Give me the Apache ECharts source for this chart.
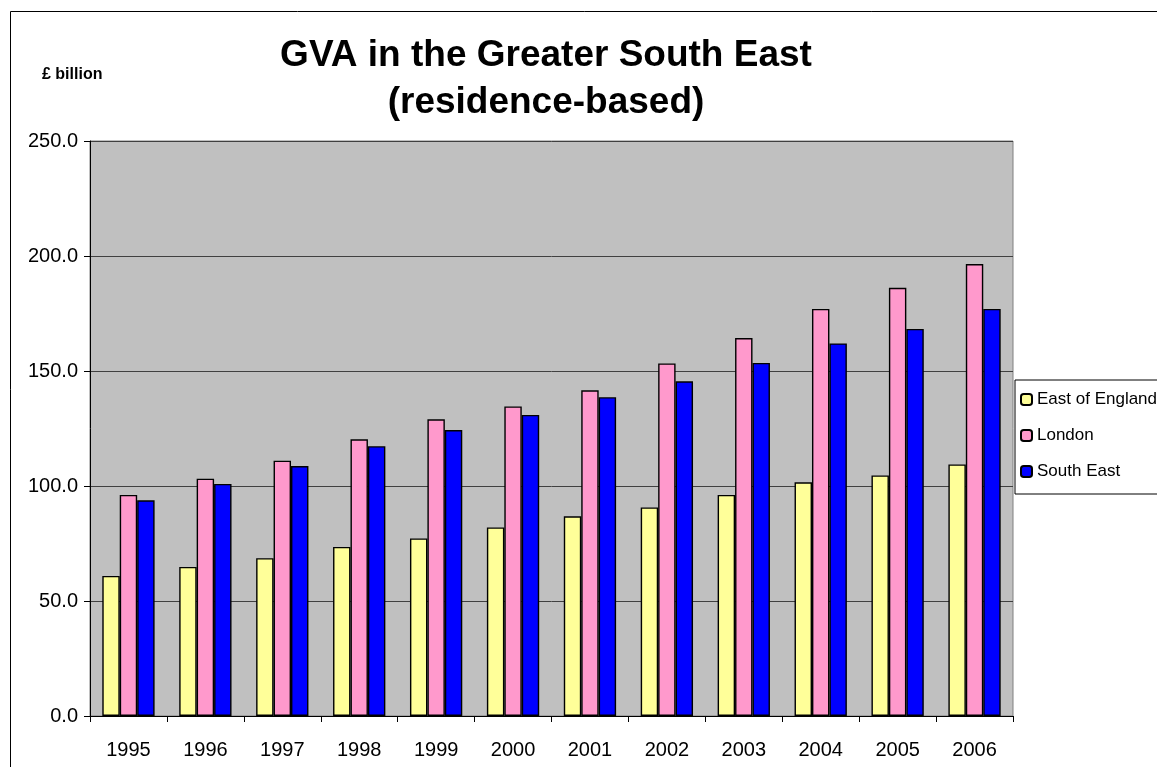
<!DOCTYPE html>
<html>
<head>
<meta charset="utf-8">
<script src="https://cdn.jsdelivr.net/npm/echarts@6/dist/echarts.min.js"></script>
<style>html,body{margin:0;padding:0;background:#fff}#c{width:1157px;height:767px}</style>
</head>
<body>
<div id="c"></div>
<script>
var categories = ['1995','1996','1997','1998','1999','2000','2001','2002','2003','2004','2005','2006'];
var eastOfEngland = [60.9, 64.8, 68.6, 73.5, 77.2, 82.0, 86.8, 90.7, 96.1, 101.6, 104.6, 109.4];
var london = [96.1, 103.2, 111.0, 120.3, 129.0, 134.6, 141.6, 153.3, 164.3, 177.0, 186.2, 196.5];
var southEast = [93.8, 100.9, 108.7, 117.3, 124.3, 130.9, 138.6, 145.5, 153.5, 162.0, 168.3, 177.0];
var seriesNames = ['East of England', 'London', 'South East'];

var font = '"Liberation Sans", Arial, sans-serif';
var chart = echarts.init(document.getElementById('c'), null, {renderer: 'canvas'});
function bar(name, data, color) {
  return {
    name: name, type: 'bar', data: data,
    barGap: '0%', barCategoryGap: '32%',
    itemStyle: {color: color, borderColor: '#000', borderWidth: 1.4},
    emphasis: {disabled: true}
  };
}
chart.setOption({
  animation: false,
  backgroundColor: '#fff',
  title: {
    text: 'GVA in the Greater South East\n(residence-based)',
    left: 541, top: 27, textAlign: 'center',
    textStyle: {fontFamily: font, fontWeight: 'bold', fontSize: 37, lineHeight: 47, color: '#000'}
  },
  graphic: [
    {type: 'rect', shape: {x: 10.5, y: 11.5, width: 1300, height: 900}, style: {fill: 'none', stroke: '#000', lineWidth: 1}, silent: true},
    {type: 'text', left: 42, top: 67, style: {text: '£ billion', font: 'bold 16px "Liberation Sans", Arial, sans-serif', fill: '#000'}, silent: true}
  ],
  legend: {
    orient: 'vertical', left: 1015, top: 380,
    padding: [11, 40, 14, 5], itemGap: 19,
    itemWidth: 11, itemHeight: 11,
    backgroundColor: '#fff', borderColor: '#000', borderWidth: 1,
    textStyle: {fontFamily: font, fontSize: 17, color: '#000'},
    data: seriesNames
  },
  grid: {left: 90, right: 144, top: 141, bottom: 51, show: true, backgroundColor: '#C0C0C0', borderColor: '#808080', borderWidth: 1},
  xAxis: {
    type: 'category', data: categories, boundaryGap: true,
    axisLine: {lineStyle: {color: '#000', width: 1}},
    axisTick: {show: true, length: 6, interval: 0, lineStyle: {color: '#000'}},
    axisLabel: {margin: 24, fontFamily: font, fontSize: 20, color: '#000', interval: 0}
  },
  yAxis: {
    type: 'value', min: 0, max: 250, interval: 50,
    axisLine: {show: true, lineStyle: {color: '#000', width: 1}},
    axisTick: {show: true, length: 6, lineStyle: {color: '#000'}},
    axisLabel: {margin: 12, fontFamily: font, fontSize: 20, color: '#000', formatter: function (v) { return v.toFixed(1); }},
    splitLine: {show: true, lineStyle: {color: '#404040', width: 1}}
  },
  series: [
    bar(seriesNames[0], eastOfEngland, '#FFFF99'),
    bar(seriesNames[1], london, '#FF99CC'),
    bar(seriesNames[2], southEast, '#0000FF')
  ]
});
</script>
</body>
</html>
